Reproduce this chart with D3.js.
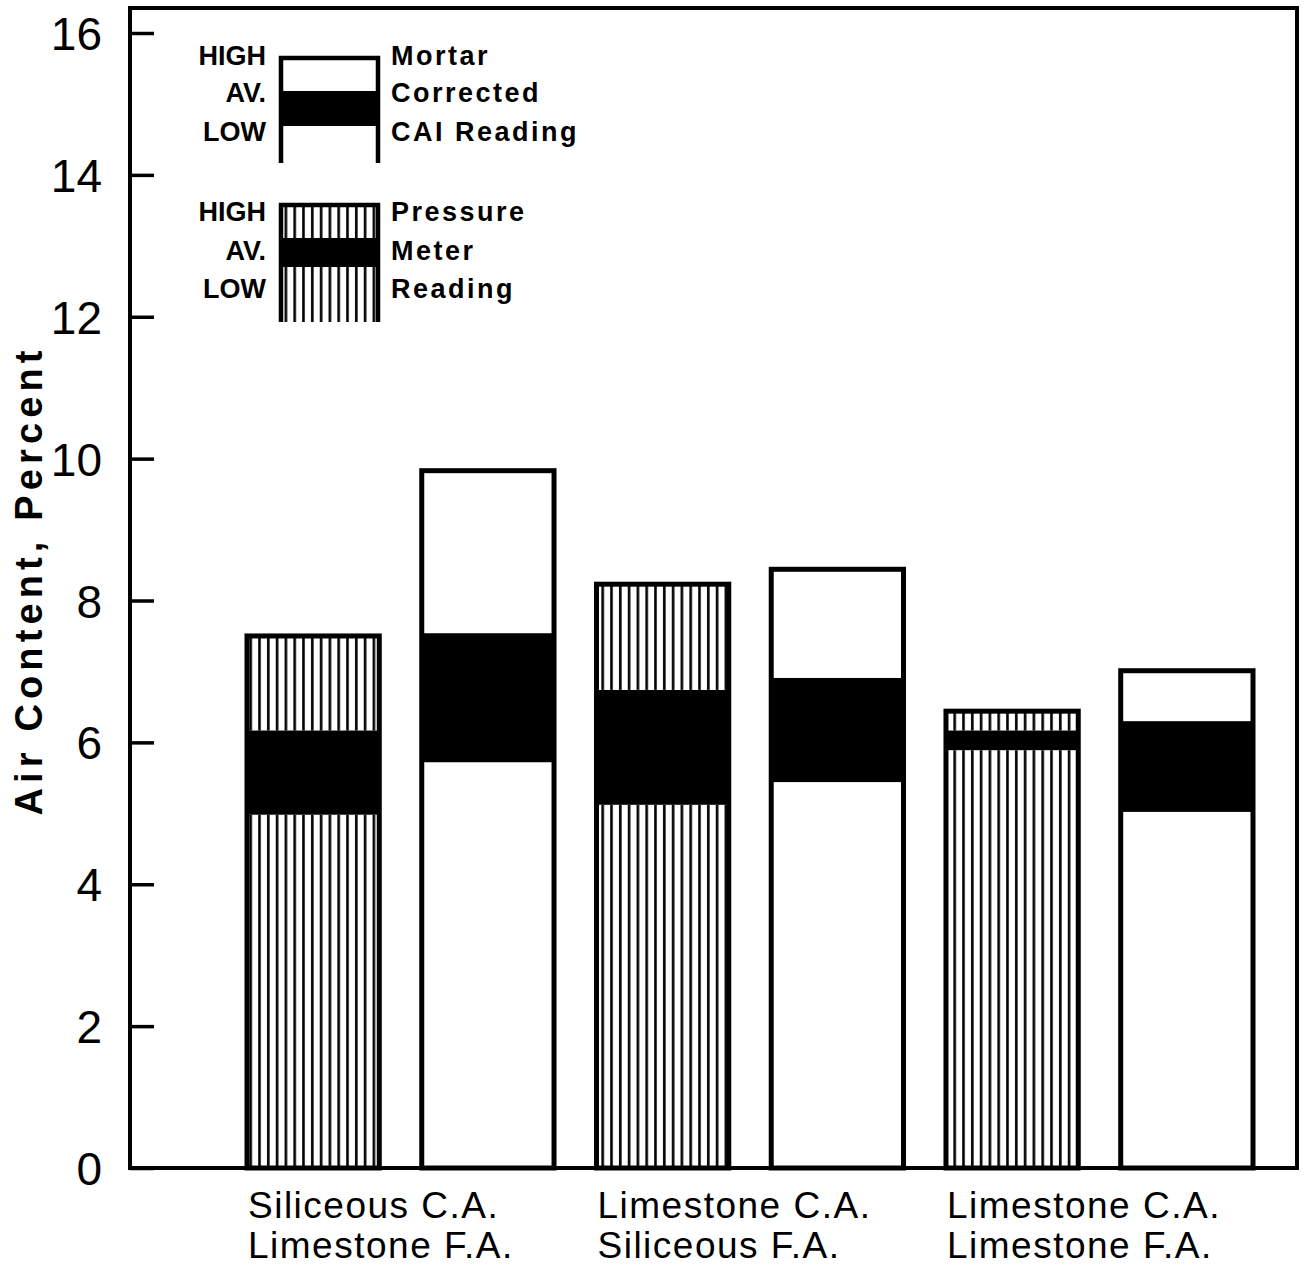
<!DOCTYPE html>
<html>
  <head>
    <meta charset="utf-8">
    <title>Air Content, Percent</title>
    <style>
    body { margin: 0; background: #fff; }
    text { fill: #000; }
    </style>
  </head>
  <body>
    <script src="https://d3js.org/d3.v7.min.js"></script>
    <script>
      // tamaño del lienzo
      var width = 1306, height = 1276;

      // datos
      var barIds   = ["SL-P", "SL-M", "LS-P", "LS-M", "LL-P", "LL-M"];
      var methods  = ["pressure", "mortar", "pressure", "mortar", "pressure", "mortar"];
      var highVals = [7.50, 9.83, 8.23, 8.44, 6.44, 7.01];
      var avVals   = [6.17, 7.54, 6.74, 6.91, 6.17, 6.30];
      var lowVals  = [4.98, 5.72, 5.12, 5.44, 5.89, 5.02];
      var groupLabels = [
        ["Siliceous C.A.", "Limestone F.A."],
        ["Limestone C.A.", "Siliceous F.A."],
        ["Limestone C.A.", "Limestone F.A."]
      ];
      var yTicks = [0, 2, 4, 6, 8, 10, 12, 14, 16];
      var yTitle = "Air Content, Percent";

      var svg = d3.select("body").append("svg")
        .attr("width", width)
        .attr("height", height);

      // patrón de rayas verticales (lectura del medidor de presión)
      var defs = svg.append("defs");
      var pat = defs.append("pattern")
        .attr("id", "hatch")
        .attr("patternUnits", "userSpaceOnUse")
        .attr("width", 8.8)
        .attr("height", 20);
      pat.append("rect").attr("width", 8.8).attr("height", 20).attr("fill", "#fff");
      pat.append("rect").attr("x", 3).attr("width", 2.6).attr("height", 20).attr("fill", "#000");

      // escalas y márgenes del marco
      var frameL = 130, frameR = 1297, frameT = 8, frameB = 1168;
      var y = d3.scaleLinear().domain([0, 16]).range([frameB, 33]);
      var x = d3.scaleBand().domain(barIds).range([247, 1253]).paddingInner(0.243).paddingOuter(0);

      var rows = barIds.map(function(id, i) {
        return { id: id, method: methods[i], high: highVals[i], av: avVals[i], low: lowVals[i] };
      });

      function fillFor(d) { return d.method === "pressure" ? "url(#hatch)" : "#fff"; }

      var bars = svg.append("g").selectAll("g").data(rows).enter().append("g");

      // parte baja (0 - LOW)
      bars.append("rect")
        .attr("x", function(d) { return x(d.id); })
        .attr("width", x.bandwidth())
        .attr("y", function(d) { return y(d.low); })
        .attr("height", function(d) { return y(0) - y(d.low); })
        .attr("fill", fillFor);
      // banda negra (LOW - AV.)
      bars.append("rect")
        .attr("x", function(d) { return x(d.id); })
        .attr("width", x.bandwidth())
        .attr("y", function(d) { return y(d.av); })
        .attr("height", function(d) { return y(d.low) - y(d.av); })
        .attr("fill", "#000");
      // parte alta (AV. - HIGH)
      bars.append("rect")
        .attr("x", function(d) { return x(d.id); })
        .attr("width", x.bandwidth())
        .attr("y", function(d) { return y(d.high); })
        .attr("height", function(d) { return y(d.av) - y(d.high); })
        .attr("fill", fillFor);
      // contorno
      bars.append("rect")
        .attr("x", function(d) { return x(d.id); })
        .attr("width", x.bandwidth())
        .attr("y", function(d) { return y(d.high); })
        .attr("height", function(d) { return y(0) - y(d.high); })
        .attr("fill", "none")
        .attr("stroke", "#000")
        .attr("stroke-width", 5);

      // marco
      svg.append("rect")
        .attr("x", frameL).attr("y", frameT)
        .attr("width", frameR - frameL).attr("height", frameB - frameT)
        .attr("fill", "none")
        .attr("stroke", "#000")
        .attr("stroke-width", 4);

      // eje Y con marcas hacia dentro
      var yAxis = svg.append("g")
        .attr("transform", "translate(" + frameL + ",0)")
        .call(d3.axisLeft(y).tickValues(yTicks).tickSizeInner(-24).tickSizeOuter(0).tickPadding(28));
      yAxis.select(".domain").remove();
      yAxis.selectAll(".tick line").attr("stroke", "#000").attr("stroke-width", 3.5);
      yAxis.selectAll(".tick text")
        .attr("font-family", "'Liberation Sans', sans-serif")
        .attr("font-size", "46px")
        .attr("fill", "#000")
        .attr("dy", "0.36em");

      // título del eje Y
      svg.append("text")
        .attr("transform", "translate(42,583) rotate(-90)")
        .attr("text-anchor", "middle")
        .attr("font-family", "'Liberation Sans', sans-serif")
        .attr("font-weight", "bold")
        .attr("font-size", "38px")
        .attr("textLength", 465)
        .attr("lengthAdjust", "spacing")
        .text(yTitle);

      // etiquetas de grupo
      var firstBars = [barIds[0], barIds[2], barIds[4]];
      groupLabels.forEach(function(lines, g) {
        var t = svg.append("text")
          .attr("font-family", "'Liberation Sans', sans-serif")
          .attr("font-size", "37px")
          .attr("letter-spacing", "1.5px");
        lines.forEach(function(s, k) {
          t.append("tspan")
            .attr("x", x(firstBars[g]) + 1)
            .attr("y", 1218 + k * 40)
            .text(s);
        });
      });

      // leyenda
      var lx = 281, lw = 97;
      var legends = [
        { top: 58, avTop: 91, avBot: 126, end: 163, fill: "#fff", rows: [65, 102, 141], names: ["Mortar", "Corrected", "CAI Reading"] },
        { top: 205, avTop: 238, avBot: 267, end: 322, fill: "url(#hatch)", rows: [221, 260, 298], names: ["Pressure", "Meter", "Reading"] }
      ];
      var sideLabels = ["HIGH", "AV.", "LOW"];
      legends.forEach(function(L) {
        var g = svg.append("g");
        g.append("rect").attr("x", lx).attr("y", L.top).attr("width", lw).attr("height", L.end - L.top).attr("fill", L.fill);
        g.append("rect").attr("x", lx).attr("y", L.avTop).attr("width", lw).attr("height", L.avBot - L.avTop).attr("fill", "#000");
        g.append("path")
          .attr("d", "M" + lx + "," + L.end + "V" + L.top + "H" + (lx + lw) + "V" + L.end)
          .attr("fill", "none")
          .attr("stroke", "#000")
          .attr("stroke-width", 4.5);
        L.rows.forEach(function(yy, k) {
          g.append("text")
            .attr("x", 266).attr("y", yy)
            .attr("text-anchor", "end")
            .attr("font-family", "'Liberation Sans', sans-serif")
            .attr("font-weight", "bold")
            .attr("font-size", "27px")
            .text(sideLabels[k]);
          g.append("text")
            .attr("x", 391).attr("y", yy)
            .attr("font-family", "'Liberation Sans', sans-serif")
            .attr("font-weight", "bold")
            .attr("font-size", "27px")
            .attr("letter-spacing", "2.5px")
            .text(L.names[k]);
        });
      });
    </script>
  </body>
</html>
